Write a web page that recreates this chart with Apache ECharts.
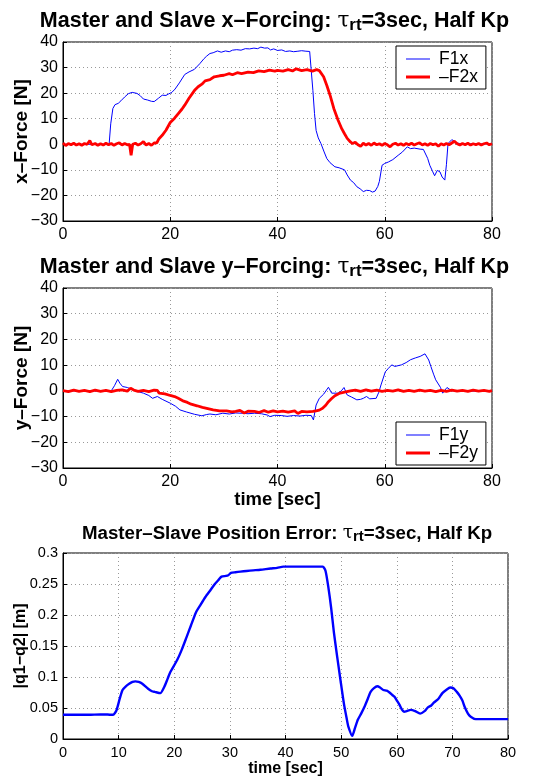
<!DOCTYPE html>
<html>
<head>
<meta charset="utf-8">
<script src="https://cdn.jsdelivr.net/npm/echarts@6/dist/echarts.min.js"></script>
<style>html,body{margin:0;padding:0;background:#fff}#c{width:549px;height:778px}</style>
</head>
<body>
<div id="c"></div>
<script>
// ---------- DATA ----------
const xTicks = [0, 20, 40, 60, 80];
const xTicks3 = [0, 10, 20, 30, 40, 50, 60, 70, 80];
const forceTicks = [-30, -20, -10, 0, 10, 20, 30, 40];
const errTicks = [0, 0.05, 0.1, 0.15, 0.2, 0.25, 0.3];

// Plot 1: F1x (master) and -F2x (slave)
const f1x = [[0,0],[8.6,0],[8.9,8],[9.3,14],[9.7,15.5],[10.3,16],[10.8,17],[11.5,18.5],[12.2,19.8],[12.9,20.3],[13.8,19.9],[14.4,19],[15,17.7],[15.8,17.3],[16.5,16.8],[17,16.7],[17.8,18],[18.5,19.2],[19.2,19.1],[19.7,19.7],[20.3,20.3],[20.9,21.6],[21.7,24],[22.7,27.3],[23.5,28.3],[24.5,29.3],[25.5,31.5],[26.3,33.5],[26.8,34.5],[27.4,35.5],[28,35.8],[28.8,36.5],[29.5,36],[30.3,36.5],[31,36.2],[31.6,36.8],[32.4,37],[33.2,36.8],[34,37.4],[34.8,37.3],[35.6,37.6],[36.3,37.4],[36.9,38],[37.6,37.6],[38.2,37.7],[38.7,36.9],[39.3,37.3],[40,36.7],[40.8,36.9],[41.5,36.3],[42.3,36.5],[43,36.2],[43.8,36.4],[44.5,36.6],[45.3,36.4],[46,36.3],[46.3,35.9],[46.6,21],[46.9,12],[47.2,5.4],[47.6,2.5],[48.1,0.3],[48.7,-3],[49.2,-5.6],[49.8,-7.2],[50.7,-8.8],[51.5,-9.2],[52.5,-10],[53,-12],[53.6,-14],[54.2,-15],[54.8,-16.6],[55.4,-17.4],[56,-18.5],[56.6,-18],[57.2,-18.1],[57.7,-18.7],[58.2,-18.3],[58.7,-16.5],[59,-14.5],[59.5,-8.2],[60,-7.5],[60.7,-6.9],[61.5,-6],[62.5,-4.3],[63.3,-3],[64.2,-1],[64.8,-1.7],[65.5,-1.5],[66.6,-1.9],[67.2,-2],[67.5,-2.6],[68,-5.5],[68.4,-8.2],[68.9,-10.5],[69.3,-12.3],[69.8,-10.2],[70.3,-10.8],[70.7,-12.8],[71.2,-14],[71.5,-8],[71.8,0.3],[72.5,1.8],[73,1.2],[73.5,0.5],[74,0.3],[76,0.2],[80,0.1]];
const negF2x = [[0,0.5],[0.5,-0.5],[1,0.3],[1.5,-0.2],[2,0.4],[2.5,-0.3],[3,0.2],[3.5,-0.4],[4,0.3],[4.5,0],[5,1.4],[5.4,-0.2],[6,0.3],[6.5,-0.4],[7,0.2],[7.5,-0.3],[8,0.4],[8.5,-0.2],[9,0.3],[9.5,-0.4],[10,0.2],[10.5,0.6],[11,-0.3],[11.5,0.3],[12,-0.2],[12.4,0],[12.7,-4.3],[13,0],[13.5,0.4],[14,-0.3],[14.5,0.2],[15,1.1],[15.5,-0.3],[16,0.3],[16.5,-0.4],[17,0.5],[17.5,0.6],[17.9,2.2],[18.5,3.5],[19.2,5.5],[20,8.5],[20.8,10.2],[21.5,12],[22.2,13.8],[22.7,15.3],[23.5,18],[24.5,21],[25.2,22.5],[25.9,23.5],[26.5,24.8],[27.4,25.3],[28.2,26.4],[29.2,26.8],[30,27],[31,27.6],[31.6,27.2],[32.5,28],[33.3,27.6],[34.5,28.2],[35.5,28],[36.5,28.7],[37.5,28.4],[38.5,29],[39.5,28.6],[40,28.9],[41,28.6],[42,29.2],[42.8,28.7],[43.5,29.5],[44.5,28.8],[45.5,29.2],[46.5,28.6],[47.3,29.2],[47.8,28.8],[48.6,26.4],[49.2,23],[49.8,19.2],[50.5,14],[51.3,9.4],[52,6],[52.5,4.1],[53,2.3],[53.6,0.9],[54,0.3],[54.5,0.8],[55,-0.2],[55.5,-0.8],[56,0.4],[56.5,-0.3],[57,0.3],[57.5,-0.4],[58,0.5],[58.5,-0.2],[59,0.2],[59.5,-0.4],[60,0.3],[60.5,-0.2],[61,-1],[61.5,0],[62,0.4],[62.5,-0.3],[63,0.2],[63.5,-0.4],[64,0.3],[64.5,-0.2],[65,0.4],[65.5,-0.3],[66,0.2],[66.5,0.6],[67,-0.3],[67.5,0.2],[68,-0.4],[68.5,0.3],[69,-0.2],[69.5,0.2],[70,-0.8],[70.5,0.2],[71,-0.3],[71.5,0.3],[72,-0.2],[72.5,0.5],[73,1.2],[73.5,0.2],[74,-0.3],[74.5,0.3],[75,-0.2],[75.5,0.4],[76,-0.3],[76.5,0.2],[77,-0.2],[77.5,0.3],[78,-0.3],[78.5,0.2],[79,0.5],[79.5,-0.2],[80,0.2]];

// Plot 2: F1y (master) and -F2y (slave)
const f1y = [[0,0],[9,0],[9.6,2],[10.2,4.5],[10.6,3],[11.1,1.7],[12,1.3],[12.6,0.8],[13.5,0],[15,-0.9],[16,-1.8],[16.7,-2.9],[17.6,-2.2],[18.5,-3.3],[20,-4.8],[21,-6],[21.8,-7.4],[23,-8.2],[24.5,-9.1],[25.9,-9.7],[26.8,-9.2],[27.4,-9],[28.5,-9.3],[29.8,-8.7],[31,-9],[32.2,-8.6],[33.4,-8.7],[34.5,-8.9],[35.7,-8.7],[37,-8.9],[38.1,-9.4],[38.6,-10],[39.5,-9.5],[40.7,-9.6],[41.8,-9.9],[43,-9.6],[44.2,-9.8],[45.3,-9.5],[46.3,-9.6],[46.7,-11.3],[47.2,-5.5],[47.8,-2.9],[48.6,-1.3],[49.5,1.4],[50.1,-0.9],[51.3,-0.9],[51.9,0],[52.4,1.3],[53,-1.6],[53.8,-2.4],[54.8,-3.5],[55.5,-3.3],[56,-2.9],[56.6,-2.2],[57.2,-3.1],[58.4,-2.9],[58.9,-0.5],[59.3,2.3],[60.1,7.4],[60.7,8.8],[61.3,10.1],[61.9,9.5],[63.1,10.1],[64,11],[64.8,12.1],[65.7,12.8],[66.6,13.4],[67.5,14.4],[67.8,14],[68.2,12],[68.6,9.5],[69.1,6.5],[69.5,4.3],[70.4,1.3],[70.8,-0.9],[71.6,1.3],[72.5,0],[74,0.1],[76,-0.1],[80,0]];
const negF2y = [[0,0.1],[1,-0.3],[2,0.3],[3,-0.2],[4,0.2],[5,-0.3],[6,0.3],[7,-0.2],[8,0.2],[9,-0.3],[10,0.2],[11,0.4],[12,-0.1],[12.6,1],[13.2,0.3],[14,-0.2],[15,0.2],[16,-0.3],[17,0.3],[17.6,0.2],[17.9,-0.9],[19,-1.2],[20,-1.8],[20.8,-2.2],[21.5,-2.9],[22.5,-4],[23.2,-4.5],[23.9,-5.2],[25,-5.8],[26,-6.4],[26.8,-6.8],[28,-7.4],[29.2,-7.8],[30.5,-7.8],[31.5,-8.2],[32.2,-8],[33,-7.6],[33.8,-8.6],[34.5,-7.9],[35.7,-8],[36.5,-8.4],[37.5,-7.7],[38.3,-8.3],[39.2,-7.8],[40,-8.2],[41,-7.9],[42,-8.3],[43.2,-7.8],[43.8,-8.8],[44.5,-8],[45.5,-8.2],[46.6,-8],[47.2,-7.8],[47.8,-7.5],[48.4,-6.8],[49,-5.6],[49.5,-4.2],[50.1,-3],[50.7,-1.9],[51.5,-1],[52.5,-0.5],[53.6,0],[54.5,0.3],[55.5,-0.2],[56.5,0.4],[57.5,-0.1],[58.5,0.3],[59.5,-0.2],[60.5,0.2],[61.5,-0.1],[62.5,0.4],[63.5,-0.2],[64.5,0.2],[65.5,-0.2],[66.5,0.3],[67.5,-0.1],[68.5,0.2],[69.5,-0.3],[70.5,0.2],[71.5,-0.2],[72.5,0.3],[73.5,-0.1],[74.5,0.2],[75.5,-0.2],[76.5,0.3],[77.5,-0.1],[78.5,0.2],[79.5,-0.2],[80,0.1]];

// Plot 3: |q1 - q2|
const posErr = [[0,0.039],[3,0.039],[5,0.0392],[6.7,0.0396],[8,0.0394],[9,0.039],[9.6,0.046],[10.2,0.065],[10.7,0.079],[11.3,0.085],[11.9,0.089],[12.5,0.092],[13,0.093],[13.6,0.092],[14.2,0.0895],[15.3,0.081],[16,0.077],[16.5,0.076],[17.5,0.074],[18.2,0.084],[18.8,0.097],[19.3,0.108],[20.5,0.127],[21.3,0.143],[22.2,0.164],[23,0.183],[23.9,0.204],[24.7,0.216],[25.6,0.229],[26.5,0.24],[27.3,0.25],[28,0.257],[28.5,0.262],[29.3,0.263],[29.7,0.264],[30.2,0.268],[31,0.269],[31.9,0.27],[33,0.271],[34.2,0.272],[35.5,0.273],[37.3,0.275],[38.5,0.276],[39.6,0.278],[42,0.278],[44,0.278],[46.7,0.278],[47.2,0.271],[47.7,0.245],[48.2,0.212],[48.7,0.172],[49.3,0.132],[49.9,0.094],[50.5,0.057],[51,0.033],[51.3,0.02],[52,0.005],[52.5,0.018],[53,0.031],[53.6,0.041],[54.2,0.052],[54.8,0.065],[55.3,0.076],[55.9,0.082],[56.5,0.085],[57,0.083],[57.6,0.079],[58.2,0.078],[58.7,0.075],[59.2,0.071],[59.6,0.068],[60.1,0.061],[60.5,0.055],[60.9,0.048],[61.3,0.044],[61.8,0.045],[62.5,0.047],[63.3,0.045],[64.2,0.041],[65,0.045],[65.6,0.051],[66.2,0.054],[66.7,0.059],[67.5,0.065],[68.2,0.074],[69,0.08],[69.6,0.083],[70.2,0.082],[70.8,0.076],[71.3,0.07],[71.8,0.062],[72.2,0.052],[72.8,0.041],[73.3,0.036],[74.2,0.032],[76.2,0.032],[78,0.032],[80,0.032]];

// ---------- CHART ----------
const FONT = '"Liberation Sans", Arial, Helvetica, sans-serif';
const chart = echarts.init(document.getElementById('c'), null, {renderer: 'canvas'});

function fmtNum(v) { return String(v).replace('-', '\u2212'); }

function titleRich(prefix, size) {
  return {
    text: '{a|' + prefix + '}{t|\u03C4}{s|rt}{a|=3sec, Half Kp}',
    textStyle: {
      rich: {
        a: {fontFamily: FONT, fontWeight: 'bold', fontSize: size, color: '#000', lineHeight: size + 2, verticalAlign: 'top'},
        t: {fontFamily: '"DejaVu Serif", serif', fontWeight: 'normal', fontSize: size, color: '#000', lineHeight: size + 2, verticalAlign: 'top'},
        s: {fontFamily: FONT, fontWeight: 'bold', fontSize: Math.round(size * 0.78), color: '#000', lineHeight: size + 2, verticalAlign: 'bottom', padding: [Math.round(size * 0.5), 0, 0, 0]}
      }
    }
  };
}

const gridLine = {show: true, lineStyle: {color: '#999', type: [1, 3], width: 1}};
function axisLbl(fs) { return {fontFamily: FONT, fontSize: fs, color: '#000', formatter: fmtNum}; }
function nameStyle(fs) { return {fontFamily: FONT, fontWeight: 'bold', fontSize: fs, color: '#000'}; }

function xAx(gi, ticks, showName, fs, nfs, gap) {
  return {
    type: 'value', gridIndex: gi, min: ticks[0], max: ticks[ticks.length - 1],
    interval: ticks[1] - ticks[0],
    axisLine: {show: true, onZero: false, lineStyle: {color: '#000', width: 1}},
    axisTick: {show: true, inside: true, length: 4, lineStyle: {color: '#000'}},
    axisLabel: Object.assign({margin: 6}, axisLbl(fs)),
    splitLine: gridLine,
    name: showName ? 'time [sec]' : '', nameLocation: 'middle', nameGap: gap, nameTextStyle: nameStyle(nfs)
  };
}
function yAx(gi, ticks, name, fs, nfs, gap) {
  return {
    type: 'value', gridIndex: gi, min: ticks[0], max: ticks[ticks.length - 1],
    interval: Math.round((ticks[1] - ticks[0]) * 1000) / 1000,
    axisLine: {show: true, onZero: false, lineStyle: {color: '#000', width: 1}},
    axisTick: {show: true, inside: true, length: 4, lineStyle: {color: '#000'}},
    axisLabel: Object.assign({margin: 5}, axisLbl(fs)),
    splitLine: gridLine,
    name: name, nameLocation: 'middle', nameRotate: 90, nameGap: gap, nameMoveOverlap: false, nameTextStyle: nameStyle(nfs)
  };
}

const t1 = titleRich('Master and Slave x\u2013Forcing: ', 21.5);
const t2 = titleRich('Master and Slave y\u2013Forcing: ', 21.5);
const t3 = titleRich('Master\u2013Slave Position Error: ', 18.7);

const ICON_THIN = 'path://M0,0H24V1H0Z';
const ICON_THICK = 'path://M0,0H24V3H0Z';
const legendBase = {
  orient: 'vertical', backgroundColor: '#fff', borderColor: '#000', borderWidth: 1, borderRadius: 0,
  padding: [4, 8, 3, 10], itemWidth: 24, itemHeight: 14, itemGap: 0,
  textStyle: {fontFamily: FONT, fontSize: 17.5, color: '#000', padding: [0, 0, 0, 4], lineHeight: 18}
};

const gridCommon = {show: true, borderColor: '#000', borderWidth: 1, outerBoundsMode: 'none', containLabel: false};

chart.setOption({
  animation: false,
  backgroundColor: '#fff',
  title: [
    Object.assign({left: 'center', top: 5}, t1),
    Object.assign({left: 'center', top: 251}, t2),
    Object.assign({left: 77, top: 519}, t3)
  ],
  legend: [
    Object.assign({data: [{name: 'F1x', icon: ICON_THIN}, {name: '\u2013F2x', icon: ICON_THICK}], left: 396, top: 46}, legendBase),
    Object.assign({data: [{name: 'F1y', icon: ICON_THIN}, {name: '\u2013F2y', icon: ICON_THICK}], left: 396, top: 422}, legendBase)
  ],
  grid: [
    Object.assign({left: 63, top: 42, width: 429, height: 179}, gridCommon),
    Object.assign({left: 63, top: 288, width: 429, height: 180}, gridCommon),
    Object.assign({left: 63, top: 553, width: 445, height: 186}, gridCommon)
  ],
  xAxis: [xAx(0, xTicks, false, 16, 18.5, 24), xAx(1, xTicks, true, 16, 18.5, 22), xAx(2, xTicks3, true, 14.5, 16, 22)],
  yAxis: [yAx(0, forceTicks, 'x\u2013Force [N]', 16, 19, 32), yAx(1, forceTicks, 'y\u2013Force [N]', 16, 19, 32), yAx(2, errTicks, '|q1\u2212q2| [m]', 14.5, 16, 34)],
  series: [
    {name: 'F1x', type: 'line', xAxisIndex: 0, yAxisIndex: 0, data: f1x, symbol: 'none', lineStyle: {color: '#0000ff', width: 1}, itemStyle: {color: '#0000ff'}, z: 2},
    {name: '\u2013F2x', type: 'line', xAxisIndex: 0, yAxisIndex: 0, data: negF2x, symbol: 'none', lineStyle: {color: '#ff0000', width: 2.8}, itemStyle: {color: '#ff0000'}, z: 3},
    {name: 'F1y', type: 'line', xAxisIndex: 1, yAxisIndex: 1, data: f1y, symbol: 'none', lineStyle: {color: '#0000ff', width: 1}, itemStyle: {color: '#0000ff'}, z: 2},
    {name: '\u2013F2y', type: 'line', xAxisIndex: 1, yAxisIndex: 1, data: negF2y, symbol: 'none', lineStyle: {color: '#ff0000', width: 2.8}, itemStyle: {color: '#ff0000'}, z: 3},
    {name: 'err', type: 'line', xAxisIndex: 2, yAxisIndex: 2, data: posErr, symbol: 'none', smooth: 0.2, lineStyle: {color: '#0000ff', width: 2.4}, itemStyle: {color: '#0000ff'}}
  ]
});
</script>
</body>
</html>
